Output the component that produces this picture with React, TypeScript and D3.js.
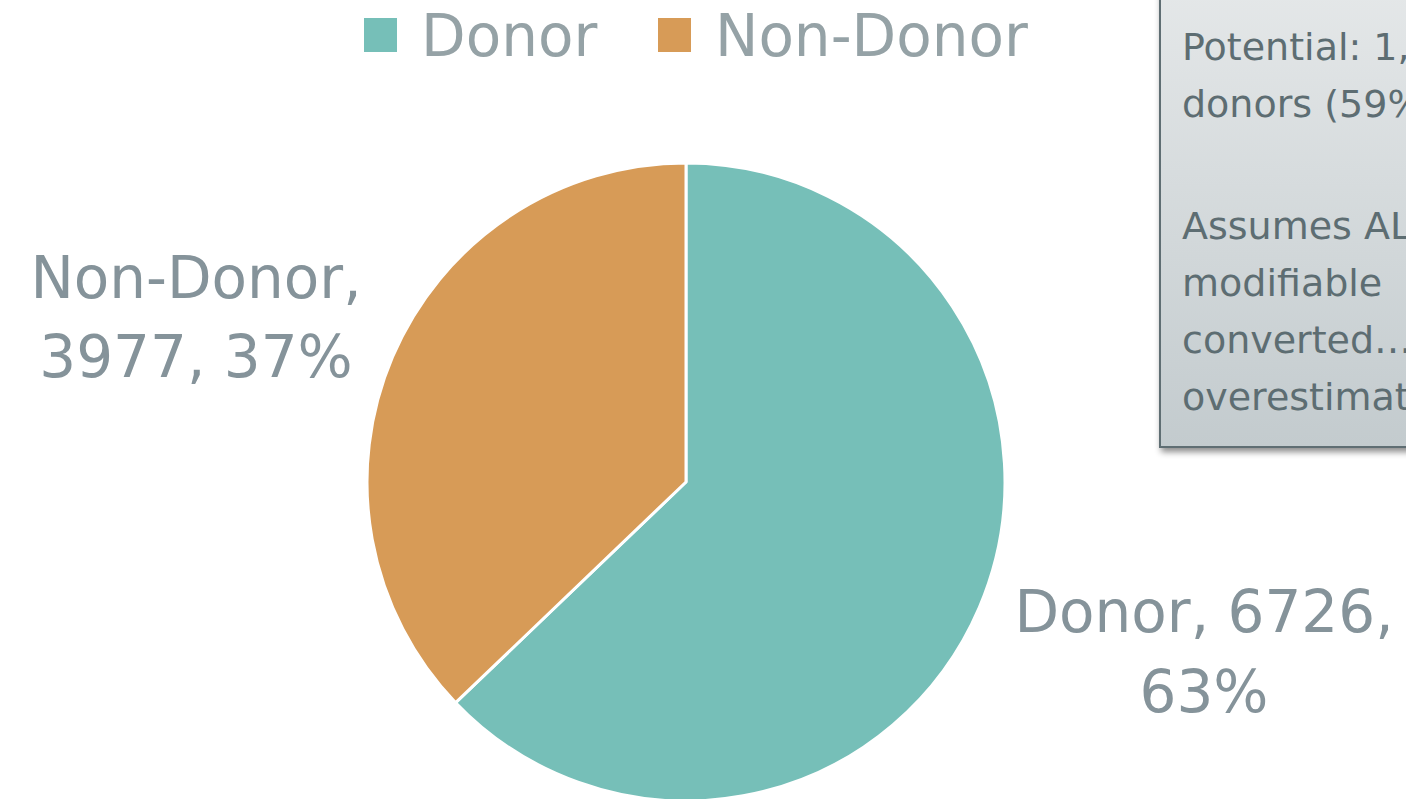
import React from 'react';
import * as d3 from 'd3';

const categories = ['Donor', 'Non-Donor'];
const values = [6726, 3977];
const colors = ['#76bfb8', '#d79b57'];
const noteLines = [
  'Potential: 1,',
  'donors (59%)',
  '',
  'Assumes ALL',
  'modifiable',
  'converted…',
  'overestimate',
];

const W = 1406;
const H = 799;
const FONT = '"DejaVu Sans", sans-serif';

export default function App() {
  const cx = 686;
  const cy = 482;
  const r = 319;

  const pie = d3.pie<number>().sort(null).value(d => d);
  const arcs = pie(values);
  const arc = d3.arc<d3.PieArcDatum<number>>().innerRadius(0).outerRadius(r);
  const total = d3.sum(values);
  const pct = (v: number) => `${Math.round((v / total) * 100)}%`;

  // label anchors (center of two-line label), per category
  const labelPos = [
    { x: 1204, y1: 632, y2: 712, lines: (i: number) => [`${categories[i]}, ${values[i]},`, pct(values[i])] },
    { x: 196, y1: 298, y2: 377, lines: (i: number) => [`${categories[i]},`, `${values[i]}, ${pct(values[i])}`] },
  ];

  const legendX = [364, 658];
  const noteY = d3.scaleLinear().domain([0, 1]).range([60, 117]);
  const noteBaseline = (i: number) => (i < 3 ? noteY(i) : noteY(i) + 8);

  return (
    <svg width={W} height={H} style={{ position: 'absolute', left: 0, top: 0 }} fontFamily={FONT}>
      <defs>
        <linearGradient id="boxg" x1="0" y1="0" x2="0" y2="1">
          <stop offset="0" stopColor="#e5e8e9" />
          <stop offset="1" stopColor="#c3cbce" />
        </linearGradient>
        <filter id="shadow" x="-10%" y="-10%" width="130%" height="130%">
          <feDropShadow dx="2" dy="4" stdDeviation="3" floodColor="#000" floodOpacity="0.45" />
        </filter>
      </defs>

      {/* legend */}
      {categories.map((c, i) => (
        <g key={c}>
          <rect x={legendX[i]} y={18} width={33} height={34} fill={colors[i]} />
          <text x={legendX[i] + 57} y={56} fontSize={58} fill="#95a2a6">{c}</text>
        </g>
      ))}

      {/* pie */}
      <g transform={`translate(${cx},${cy})`}>
        {arcs.map((a, i) => (
          <path key={i} d={arc(a) || ''} fill={colors[i]} stroke="#fff" strokeWidth={3} strokeLinejoin="round" />
        ))}
      </g>

      {/* data labels */}
      {labelPos.map((p, i) => {
        const [l1, l2] = p.lines(i);
        return (
          <g key={i} fill="#85939a" fontSize={58} textAnchor="middle">
            <text x={p.x} y={p.y1}>{l1}</text>
            <text x={p.x} y={p.y2}>{l2}</text>
          </g>
        );
      })}

      {/* note box, runs off the right edge like the source slide */}
      <rect x={1160} y={-20} width={320} height={467} fill="url(#boxg)" stroke="#5f6e73" strokeWidth={2} filter="url(#shadow)" />
      {noteLines.map((t, i) =>
        t ? (
          <text key={i} x={1182} y={noteBaseline(i)} fontSize={38} fill="#5d6d72">{t}</text>
        ) : null
      )}
    </svg>
  );
}
